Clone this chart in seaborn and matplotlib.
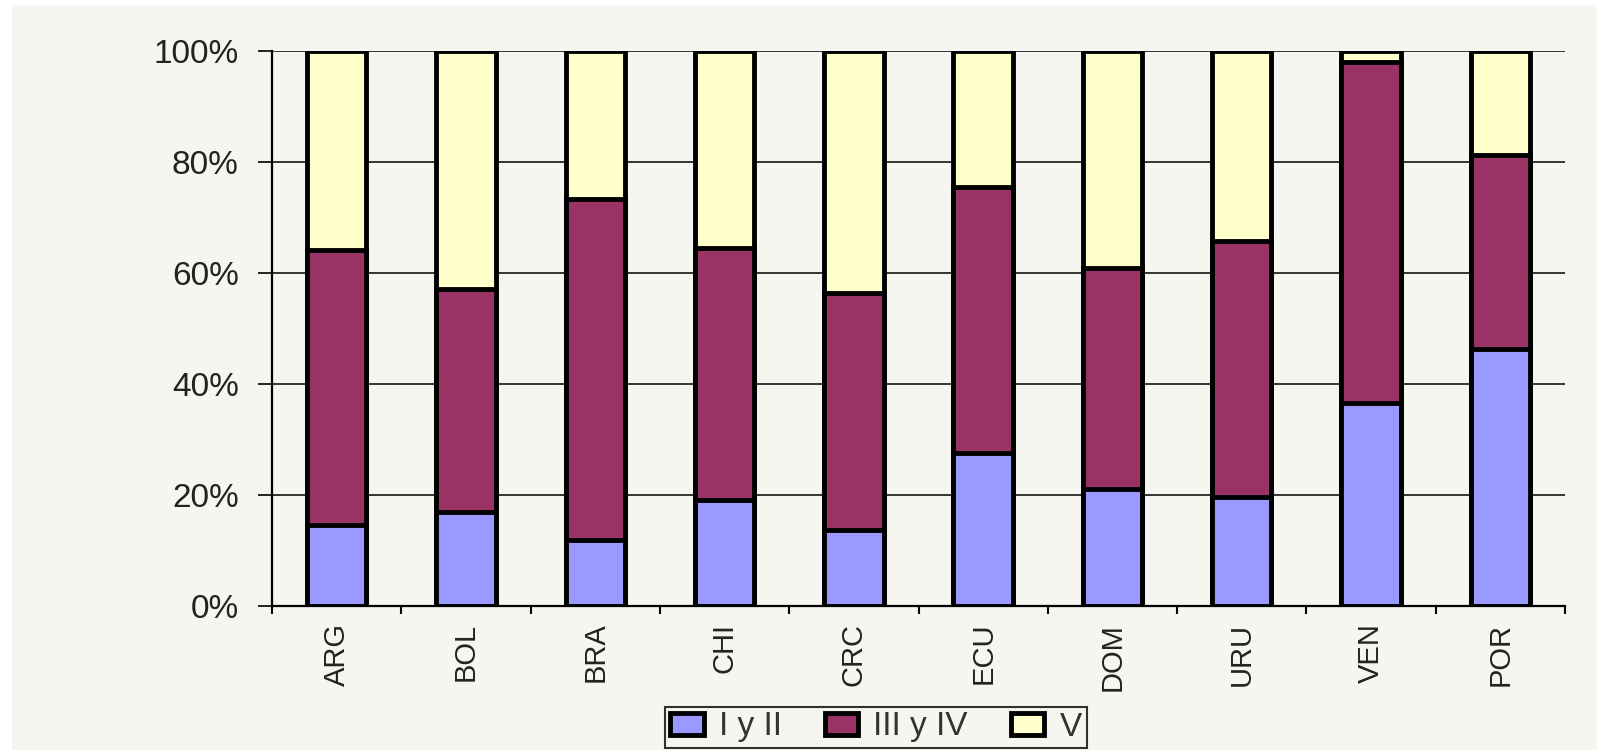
import matplotlib

matplotlib.use("Agg")

import matplotlib.pyplot as plt
import numpy as np
import pandas as pd
import seaborn as sns
from matplotlib.patches import Patch, Rectangle
from matplotlib.ticker import FixedLocator, PercentFormatter

# --- data (share of each group per country) ---
countries = ["ARG", "BOL", "BRA", "CHI", "CRC", "ECU", "DOM", "URU", "VEN", "POR"]
grupo_i_ii = [14.6, 17.0, 11.9, 19.0, 13.6, 27.6, 21.1, 19.7, 36.6, 46.2]
grupo_iii_iv = [49.5, 40.1, 61.4, 45.5, 42.8, 47.9, 39.7, 46.1, 61.3, 35.0]
grupo_v = [35.9, 42.9, 26.7, 35.5, 43.6, 24.5, 39.2, 34.2, 2.1, 18.8]

series_names = ["I y II", "III y IV", "V"]
colors = ["#9999FF", "#993366", "#FFFFCC"]
BG = "#F5F6F0"

df = pd.DataFrame({
    "pais": countries,
    "I y II": grupo_i_ii,
    "III y IV": grupo_iii_iv,
    "V": grupo_v,
})
# normalise to 100% and stack
totals = df[series_names].sum(axis=1)
for col in series_names:
    df[col] = df[col] / totals
df["cum1"] = df["I y II"]
df["cum2"] = df["cum1"] + df["III y IV"]
df["cum3"] = df["cum2"] + df["V"]

sns.set_theme(style="white")
plt.rcParams["font.family"] = ["Liberation Sans", "DejaVu Sans"]

fig = plt.figure(figsize=(15.97, 7.5), dpi=100, facecolor="white")
fig.patches.append(Rectangle((12 / 1597, 0), 1, 1 - 5 / 750,
                             transform=fig.transFigure, facecolor=BG,
                             edgecolor="none", zorder=-10))
ax = fig.add_axes([272 / 1597, 1 - 606 / 750, (1565 - 272) / 1597, (606 - 50.7) / 750])
ax.set_facecolor(BG)

# draw tallest cumulative first, then overlay the lower stacks
for cum, col in zip(["cum3", "cum2", "cum1"], colors[::-1]):
    sns.barplot(data=df, x="pais", y=cum, color=col, width=0.46,
                edgecolor="black", linewidth=3.5, saturation=1, ax=ax, zorder=3)

ax.set_xlim(-0.5, len(countries) - 0.5)
ax.set_ylim(0, 1)
ax.set_xlabel("")
ax.set_ylabel("")

ax.yaxis.set_major_locator(FixedLocator([0, 0.2, 0.4, 0.6, 0.8, 1.0]))
ax.yaxis.set_major_formatter(PercentFormatter(1.0, decimals=0))
ax.grid(axis="y", color="black", linewidth=1.1)
ax.set_axisbelow(True)

ax.xaxis.set_minor_locator(FixedLocator(np.arange(-0.5, len(countries), 1.0)))
ax.tick_params(axis="x", which="major", length=0, pad=12)
ax.tick_params(axis="x", which="minor", bottom=True, length=6, width=1.5,
               color="black", direction="out")
ax.tick_params(axis="y", left=True, length=10, width=1.2, color="black",
               direction="out", pad=14, labelsize=24, labelcolor="#222222")

for lbl in ax.get_xticklabels():
    lbl.set_rotation(90)
    lbl.set_fontsize(21)
    lbl.set_color("#222222")

sns.despine(ax=ax, top=True, right=True)
for side in ["left", "bottom"]:
    ax.spines[side].set_color("black")
    ax.spines[side].set_linewidth(1.6)

handles = [Patch(facecolor=c, edgecolor="black", linewidth=3.5, label=n)
           for c, n in zip(colors, series_names)]
leg = fig.legend(handles=handles, loc="center", bbox_to_anchor=(876 / 1597, 1 - 727 / 750),
                 ncol=3, fontsize=24, frameon=True, fancybox=False, borderpad=0.15,
                 handlelength=1.0, handleheight=0.65, handletextpad=0.45,
                 columnspacing=1.3, borderaxespad=0)
leg.get_frame().set_edgecolor("black")
leg.get_frame().set_linewidth(1.5)
leg.get_frame().set_facecolor(BG)
for t in leg.get_texts():
    t.set_color("#333333")

fig.savefig("out.png", dpi=100, facecolor=fig.get_facecolor())
plt.close(fig)
